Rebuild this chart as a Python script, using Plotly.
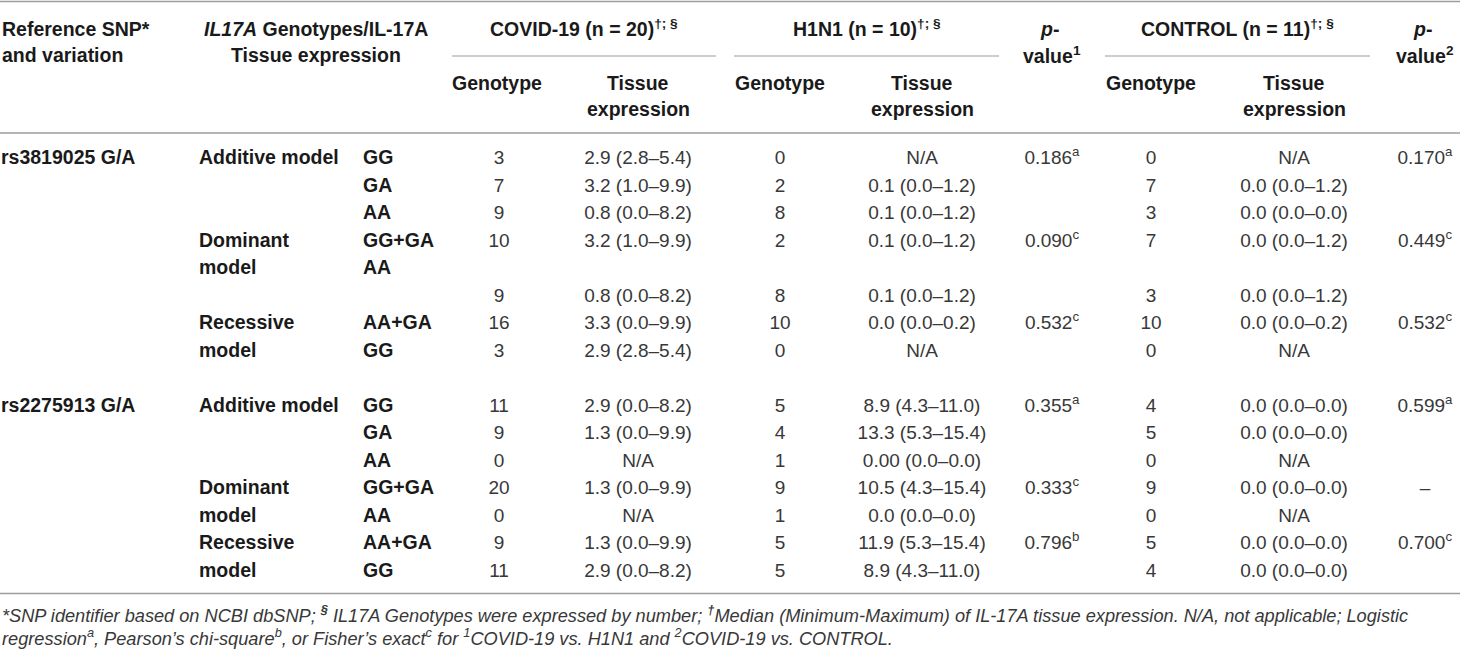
import plotly.graph_objects as go

# ---------------- data ----------------
snp_labels = ["rs3819025 G/A", "", "", "", "", "", "", "", "",
              "rs2275913 G/A", "", "", "", "", "", ""]
model_labels = ["Additive model", "", "", "Dominant", "model", "", "Recessive", "model", "",
                "Additive model", "", "", "Dominant", "model", "Recessive", "model"]
genotype_labels = ["GG", "GA", "AA", "GG+GA", "AA", "", "AA+GA", "GG", "",
                   "GG", "GA", "AA", "GG+GA", "AA", "AA+GA", "GG"]
covid_genotype = ["3", "7", "9", "10", "", "9", "16", "3", "",
                  "11", "9", "0", "20", "0", "9", "11"]
covid_expression = ["2.9 (2.8–5.4)", "3.2 (1.0–9.9)", "0.8 (0.0–8.2)", "3.2 (1.0–9.9)", "",
                    "0.8 (0.0–8.2)", "3.3 (0.0–9.9)", "2.9 (2.8–5.4)", "",
                    "2.9 (0.0–8.2)", "1.3 (0.0–9.9)", "N/A", "1.3 (0.0–9.9)", "N/A",
                    "1.3 (0.0–9.9)", "2.9 (0.0–8.2)"]
h1n1_genotype = ["0", "2", "8", "2", "", "8", "10", "0", "",
                 "5", "4", "1", "9", "1", "5", "5"]
h1n1_expression = ["N/A", "0.1 (0.0–1.2)", "0.1 (0.0–1.2)", "0.1 (0.0–1.2)", "",
                   "0.1 (0.0–1.2)", "0.0 (0.0–0.2)", "N/A", "",
                   "8.9 (4.3–11.0)", "13.3 (5.3–15.4)", "0.00 (0.0–0.0)", "10.5 (4.3–15.4)",
                   "0.0 (0.0–0.0)", "11.9 (5.3–15.4)", "8.9 (4.3–11.0)"]
p_value1 = ["0.186", "", "", "0.090", "", "", "0.532", "", "",
            "0.355", "", "", "0.333", "", "0.796", ""]
p_test1 = ["a", "", "", "c", "", "", "c", "", "",
           "a", "", "", "c", "", "b", ""]
control_genotype = ["0", "7", "3", "7", "", "3", "10", "0", "",
                    "4", "5", "0", "9", "0", "5", "4"]
control_expression = ["N/A", "0.0 (0.0–1.2)", "0.0 (0.0–0.0)", "0.0 (0.0–1.2)", "",
                      "0.0 (0.0–1.2)", "0.0 (0.0–0.2)", "N/A", "",
                      "0.0 (0.0–0.0)", "0.0 (0.0–0.0)", "N/A", "0.0 (0.0–0.0)", "N/A",
                      "0.0 (0.0–0.0)", "0.0 (0.0–0.0)"]
p_value2 = ["0.170", "", "", "0.449", "", "", "0.532", "", "",
            "0.599", "", "", "–", "", "0.700", ""]
p_test2 = ["a", "", "", "c", "", "", "c", "", "",
           "a", "", "", "", "", "c", ""]

group_headers = ["COVID-19 (n = 20)<sup>†; §</sup>", "H1N1 (n = 10)<sup>†; §</sup>",
                 "CONTROL (n = 11)<sup>†; §</sup>"]
footnote_lines = [
    "*SNP identifier based on NCBI dbSNP; <b><sup>§</sup></b> IL17A Genotypes were expressed by number; "
    "<b><sup>†</sup></b>Median (Minimum-Maximum) of IL-17A tissue expression. N/A, not applicable; Logistic",
    "regression<sup>a</sup>, Pearson’s chi-square<sup>b</sup>, or Fisher’s exact<sup>c</sup> for "
    "<sup>1</sup>COVID-19 vs. H1N1 and <sup>2</sup>COVID-19 vs. CONTROL.",
]

# ---------------- layout helpers ----------------
W, H = 1460, 651
ROW_Y0, ROW_STEP = 159.5, 27.5
n_rows = len(genotype_labels)
row_y = [ROW_Y0 + ROW_STEP * i for i in range(n_rows)]

BOLD_FONT = dict(family="Liberation Sans, Arial, sans-serif", size=19.5, color="#1a1a1a")
DATA_FONT = dict(family="Liberation Sans, Arial, sans-serif", size=19, color="#383838")
NOTE_FONT = dict(family="Liberation Sans, Arial, sans-serif", size=18.2, color="#383838")
RULE = "#9c9c9c"

fig = go.Figure()


def text_column(values, x, pos, font, bold=False):
    ys = [y for v, y in zip(values, row_y) if v]
    txt = [("<b>%s</b>" % v if bold else v) for v in values if v]
    fig.add_trace(go.Scatter(
        x=[x] * len(txt), y=ys, mode="text", text=txt, cliponaxis=False,
        textposition=pos, textfont=font, hoverinfo="skip", showlegend=False,
    ))


def with_sup(vals, sups):
    return [v + ("<sup>%s</sup>" % s if s else "") if v else "" for v, s in zip(vals, sups)]


# left label columns (left aligned)
text_column(snp_labels, 1, "middle right", BOLD_FONT, bold=True)
text_column(model_labels, 199, "middle right", BOLD_FONT, bold=True)
text_column(genotype_labels, 363, "middle right", BOLD_FONT, bold=True)

# data columns (centred)
COL_X = dict(cg=499, ce=638, hg=780, he=922, p1=1052, kg=1151, ke=1294, p2=1425)
text_column(covid_genotype, COL_X["cg"], "middle center", DATA_FONT)
text_column(covid_expression, COL_X["ce"], "middle center", DATA_FONT)
text_column(h1n1_genotype, COL_X["hg"], "middle center", DATA_FONT)
text_column(h1n1_expression, COL_X["he"], "middle center", DATA_FONT)
text_column(with_sup(p_value1, p_test1), COL_X["p1"], "middle center", DATA_FONT)
text_column(control_genotype, COL_X["kg"], "middle center", DATA_FONT)
text_column(control_expression, COL_X["ke"], "middle center", DATA_FONT)
text_column(with_sup(p_value2, p_test2), COL_X["p2"], "middle center", DATA_FONT)

annotations = []


def ann(text, x, y, xanchor="center", font=BOLD_FONT):
    annotations.append(dict(text=text, x=x, y=y, xref="x", yref="y", xanchor=xanchor,
                            yanchor="middle", showarrow=False, font=font))


# header
Y1, Y2, Y3, Y4 = 29, 55, 83, 109
ann("<b>Reference SNP*</b>", 0, Y1, "left")
ann("<b>and variation</b>", 0, Y2, "left")
ann("<b><i>IL17A</i> Genotypes/IL-17A</b>", 316, Y1)
ann("<b>Tissue expression</b>", 316, Y2)
group_spans = [(452, 716), (734, 999), (1105, 1370)]
for label, (a, b) in zip(group_headers, group_spans):
    ann("<b>%s</b>" % label, (a + b) / 2, Y1 - 1)
for gx, tx in [(COL_X["cg"] - 2, COL_X["ce"]), (COL_X["hg"], COL_X["he"]),
               (COL_X["kg"], COL_X["ke"])]:
    ann("<b>Genotype</b>", gx, Y3)
    ann("<b>Tissue</b>", tx, Y3)
    ann("<b>expression</b>", tx, Y4)
for px, n in [(COL_X["p1"], "1"), (COL_X["p2"], "2")]:
    ann("<b><i>p</i>-</b>", px - 3, Y1)
    ann("<b>value<sup>%s</sup></b>" % n, px, Y2)

# footnotes
for i, line in enumerate(footnote_lines):
    ann("<i>%s</i>" % line, 0, 614 + 23 * i, "left", NOTE_FONT)

shapes = []
for y, w in [(1.5, 1.6), (133, 1.6), (593.5, 1.6)]:
    shapes.append(dict(type="line", xref="x", yref="y", x0=0, x1=W, y0=y, y1=y,
                       line=dict(color=RULE, width=w)))
for a, b in group_spans:
    shapes.append(dict(type="line", xref="x", yref="y", x0=a, x1=b, y0=56, y1=56,
                       line=dict(color=RULE, width=1.2)))

fig.update_layout(
    width=W, height=H, margin=dict(l=0, r=0, t=0, b=0),
    paper_bgcolor="white", plot_bgcolor="white",
    xaxis=dict(range=[0, W], visible=False, fixedrange=True),
    yaxis=dict(range=[H, 0], visible=False, fixedrange=True),
    annotations=annotations, shapes=shapes, showlegend=False,
)

fig.write_html(
    "out.html",
    config={"displayModeBar": False},
    post_script="document.body.style.margin='0';document.body.style.overflow='hidden';",
)
